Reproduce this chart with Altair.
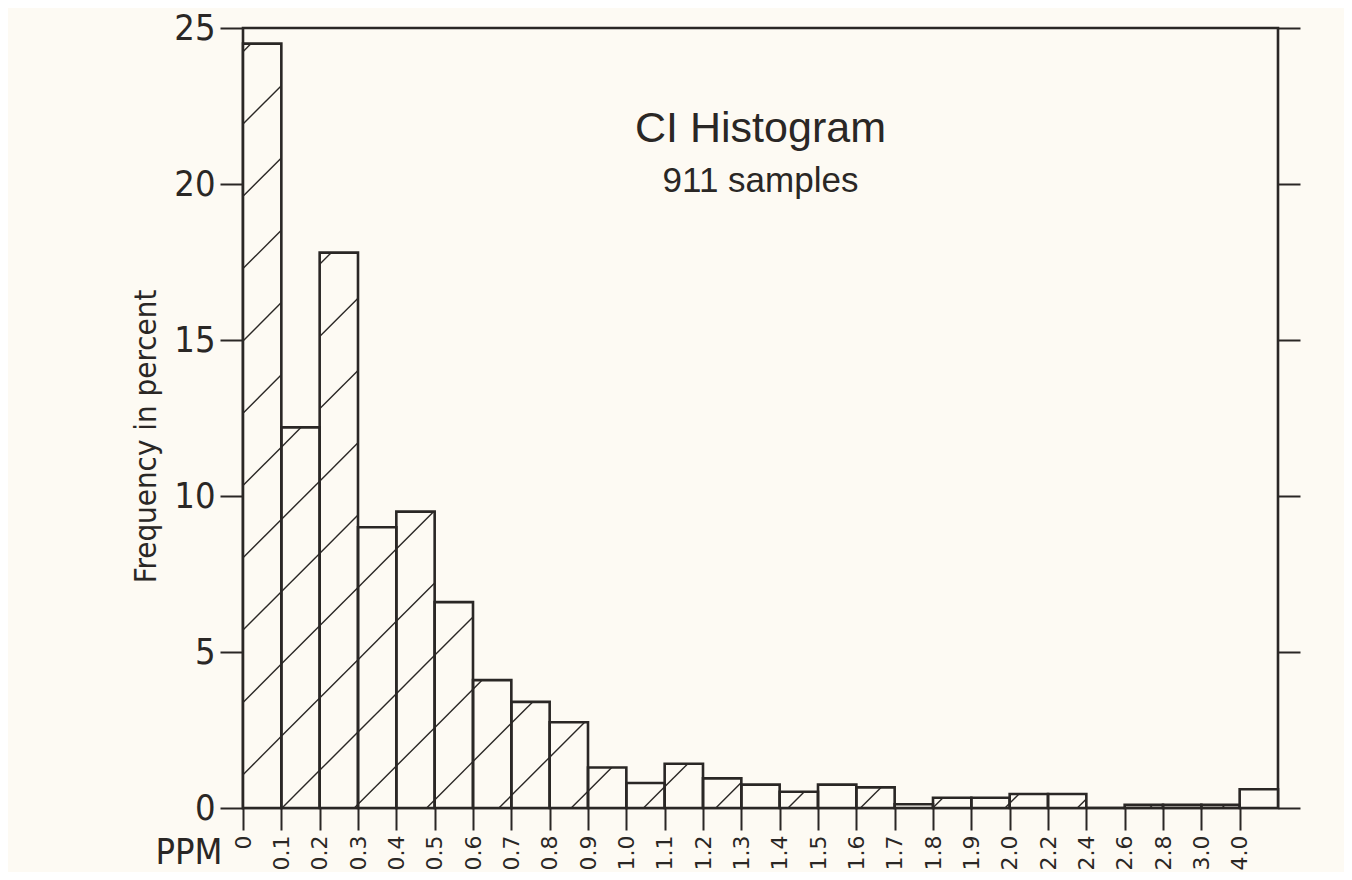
import altair as alt
import pandas as pd

# ---- data ----
tick_labels = ["0", "0.1", "0.2", "0.3", "0.4", "0.5", "0.6", "0.7", "0.8", "0.9",
               "1.0", "1.1", "1.2", "1.3", "1.4", "1.5", "1.6", "1.7", "1.8", "1.9",
               "2.0", "2.2", "2.4", "2.6", "2.8", "3.0", "4.0"]
frequency = [24.5, 12.2, 17.8, 9.0, 9.5, 6.6, 4.1, 3.4, 2.75, 1.3,
             0.8, 1.42, 0.95, 0.75, 0.52, 0.75, 0.66, 0.12, 0.33, 0.33,
             0.45, 0.45, 0.0, 0.1, 0.1, 0.1, 0.6]
y_ticks = [0, 5, 10, 15, 20, 25]

INK = "#2a2725"
BG = "#fdfaf3"
NARROW = "DejaVu Sans Condensed, Roboto Condensed, Liberation Sans Narrow, Roboto, sans-serif"
W, H = 1035, 780
NB = len(frequency)

bars = pd.DataFrame({"start": list(range(NB)), "end": list(range(1, NB + 1)), "freq": frequency})

# ---- hatching (45 degree lines clipped to the histogram area) ----
px_bin = W / NB
px_pct = H / 25.0
spacing = 72.3
offset = 39.0
segs = []
for k in range(-14, 16):
    c = offset + spacing * k
    for i, v in enumerate(frequency):
        x0, x1, hh = i * px_bin, (i + 1) * px_bin, v * px_pct
        h0 = max(0.0, x0 - c)
        h1 = min(hh, x1 - c)
        if h1 > h0 + 0.5:
            segs.append({"x": (c + h0) / px_bin, "y": h0 / px_pct,
                         "x2": (c + h1) / px_bin, "y2": h1 / px_pct})
hatch_df = pd.DataFrame(segs)

label_expr = "[" + ",".join("'" + t + "'" for t in tick_labels) + "][datum.value]"

xscale = alt.Scale(domain=[0, NB], nice=False, zero=False)
yscale = alt.Scale(domain=[0, 25], nice=False)

x_axis = alt.Axis(values=list(range(len(tick_labels))), labelExpr=label_expr, labelAngle=270,
                  tickSize=22, tickWidth=2, tickColor=INK, domain=False, grid=False,
                  labelFont="DejaVu Sans", labelFontSize=22, labelColor=INK,
                  labelPadding=5, labelOverlap=False,
                  title="PPM", titleFont=NARROW, titleFontSize=36,
                  titleFontWeight="normal", titleColor=INK, titleAngle=0, titleAlign="right",
                  titleBaseline="alphabetic", titleX=-21, titleY=55)

y_axis = alt.Axis(values=y_ticks, tickSize=23, tickWidth=2, tickColor=INK, domain=False, grid=False,
                  labelFont=NARROW, labelFontSize=36, labelColor=INK, labelPadding=5,
                  title="Frequency in percent", titleFont=NARROW, titleFontSize=31,
                  titleFontWeight="normal", titleColor=INK, titleAngle=270, titleBaseline="alphabetic",
                  titleX=-88, titleY=H / 2 + 18, titleAlign="center")

y_axis_right = alt.Axis(values=y_ticks, orient="right", tickSize=22, tickWidth=2, tickColor=INK,
                        domain=False, grid=False, labels=False, title=None)

fill = alt.Chart(bars).mark_rect(fill=BG, strokeWidth=0).encode(
    x=alt.X("start:Q", scale=xscale, axis=x_axis),
    x2="end:Q",
    y=alt.Y("freq:Q", scale=yscale, axis=y_axis),
    y2=alt.datum(0),
)

hatch = alt.Chart(hatch_df).mark_rule(color=INK, strokeWidth=1.4).encode(
    x=alt.X("x:Q", scale=xscale, axis=None),
    x2="x2:Q",
    y=alt.Y("y:Q", scale=yscale, axis=y_axis_right),
    y2="y2:Q",
)

outline = alt.Chart(bars).mark_rect(fillOpacity=0, stroke=INK, strokeWidth=2.6).encode(
    x=alt.X("start:Q", scale=xscale, axis=None),
    x2="end:Q",
    y=alt.Y("freq:Q", scale=yscale, axis=None),
    y2=alt.datum(0),
)

chart = alt.layer(fill, hatch, outline).resolve_axis(x="independent", y="independent").properties(
    width=W, height=H,
    autosize="none",
    padding={"left": 235, "top": 20, "right": 66, "bottom": 64},
    background=BG,
    title=alt.TitleParams(text="CI Histogram", subtitle="911 samples", anchor="middle", frame="group",
                          font="Liberation Sans", fontSize=43, fontWeight="normal", color=INK,
                          subtitleFont="Liberation Sans", subtitleFontSize=35, subtitleColor=INK,
                          subtitlePadding=13, dy=193),
).configure_view(stroke=INK, strokeWidth=2.6)

chart.save("out.html", embed_options={"renderer": "svg", "actions": False})
